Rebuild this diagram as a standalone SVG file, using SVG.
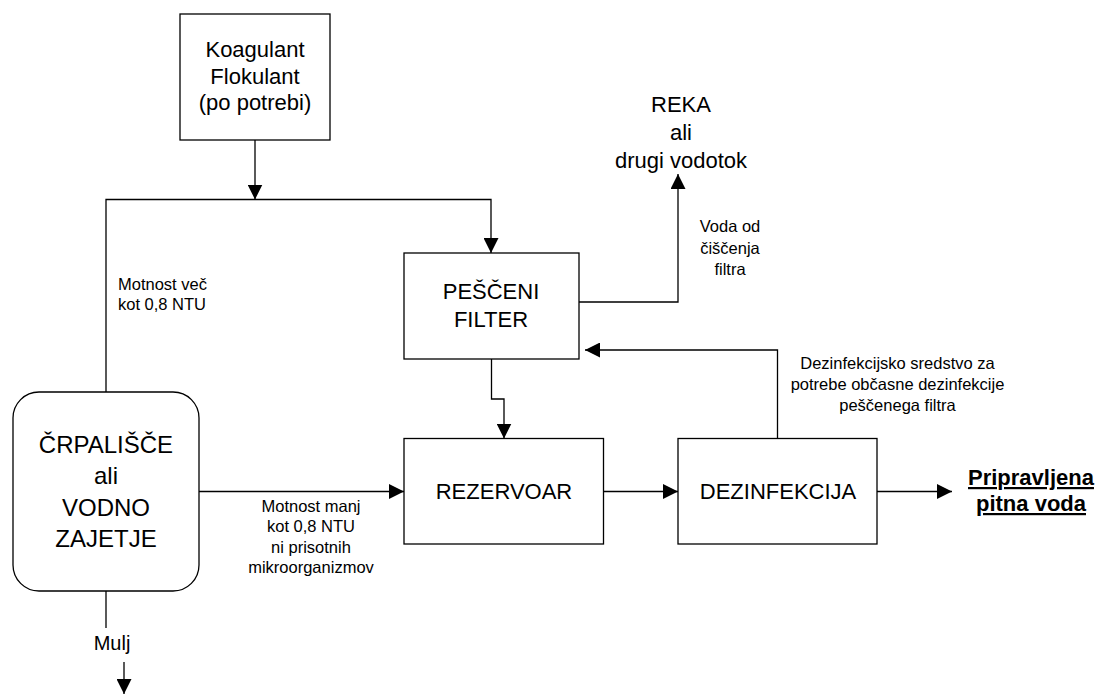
<svg xmlns="http://www.w3.org/2000/svg" width="1096" height="695" viewBox="0 0 1096 695">
<style>
.box{fill:#fff;stroke:#000;stroke-width:1.3}
.ln{fill:none;stroke:#000;stroke-width:1.3}
.big{font-family:"Liberation Sans",Arial,sans-serif;font-size:22px;fill:#000;text-anchor:middle}
.sm{font-family:"Liberation Sans",Arial,sans-serif;font-size:16.5px;fill:#000;text-anchor:middle}
.out{font-family:"Liberation Sans",Arial,sans-serif;font-size:22px;font-weight:bold;fill:#000;text-anchor:middle;text-decoration:underline}
</style>
<defs>
<marker id="arr" markerUnits="userSpaceOnUse" markerWidth="15" markerHeight="15" refX="15" refY="7.5" orient="auto">
<path d="M0,0 L15,7.5 L0,15 z" fill="#000"/>
</marker>
</defs>
<rect width="1096" height="695" fill="#fff"/>
<g id="connectors">
<path class="ln" d="M255,140 V199.5" marker-end="url(#arr)"/>
<path class="ln" d="M106,392 V199.5 H491 V253" marker-end="url(#arr)"/>
<path class="ln" d="M579,302 H678 V174" marker-end="url(#arr)"/>
<path class="ln" d="M491.5,359 V399 H504 V438.5" marker-end="url(#arr)"/>
<path class="ln" d="M777.5,438.5 V350 H585" marker-end="url(#arr)"/>
<path class="ln" d="M199,491.5 H404" marker-end="url(#arr)"/>
<path class="ln" d="M603.5,491.5 H678" marker-end="url(#arr)"/>
<path class="ln" d="M877,491.5 H952" marker-end="url(#arr)"/>
<path class="ln" d="M106,591 V628"/>
<path class="ln" d="M124,662 V694" marker-end="url(#arr)"/>
</g>
<g id="koagulant">
<rect class="box" x="180" y="14" width="150" height="126"/>
<text class="big" x="255" y="57">Koagulant</text>
<text class="big" x="255" y="84">Flokulant</text>
<text class="big" x="255" y="110">(po potrebi)</text>
</g>
<g id="reka">
<text class="big" x="681" y="112">REKA</text>
<text class="big" x="681" y="140">ali</text>
<text class="big" x="681" y="168">drugi vodotok</text>
</g>
<g id="filter">
<rect class="box" x="404" y="253" width="175" height="106"/>
<text class="big" x="491" y="299">PEŠČENI</text>
<text class="big" x="491" y="327">FILTER</text>
</g>
<g id="crpalisce">
<rect class="box" x="13" y="392" width="186" height="199" rx="26" ry="26"/>
<text class="big" x="106" y="453" style="font-size:24px">ČRPALIŠČE</text>
<text class="big" x="106" y="484" style="font-size:24px">ali</text>
<text class="big" x="106" y="516" style="font-size:24px">VODNO</text>
<text class="big" x="106" y="547" style="font-size:24px">ZAJETJE</text>
</g>
<g id="rezervoar">
<rect class="box" x="404" y="438.5" width="199.5" height="105.5"/>
<text class="big" x="504" y="499">REZERVOAR</text>
</g>
<g id="dezinfekcija">
<rect class="box" x="678" y="438.5" width="199" height="105.5"/>
<text class="big" x="778" y="499">DEZINFEKCIJA</text>
</g>
<g id="output">
<text class="out" x="1031" y="485">Pripravljena</text>
<text class="out" x="1031" y="511">pitna voda</text>
</g>
<g id="mulj">
<text class="big" x="112" y="650" style="font-size:20px">Mulj</text>
</g>
<g id="labels">
<text class="sm" x="118" y="290" style="text-anchor:start">Motnost več</text>
<text class="sm" x="118" y="310" style="text-anchor:start">kot 0,8 NTU</text>
<text class="sm" x="730" y="232">Voda od</text>
<text class="sm" x="730" y="253.5">čiščenja</text>
<text class="sm" x="730" y="275">filtra</text>
<text class="sm" x="897.5" y="369">Dezinfekcijsko sredstvo za</text>
<text class="sm" x="897.5" y="390">potrebe občasne dezinfekcije</text>
<text class="sm" x="897.5" y="411">peščenega filtra</text>
<text class="sm" x="311" y="511.5">Motnost manj</text>
<text class="sm" x="311" y="532">kot 0,8 NTU</text>
<text class="sm" x="311" y="552.5">ni prisotnih</text>
<text class="sm" x="311" y="573">mikroorganizmov</text>
</g>
</svg>
